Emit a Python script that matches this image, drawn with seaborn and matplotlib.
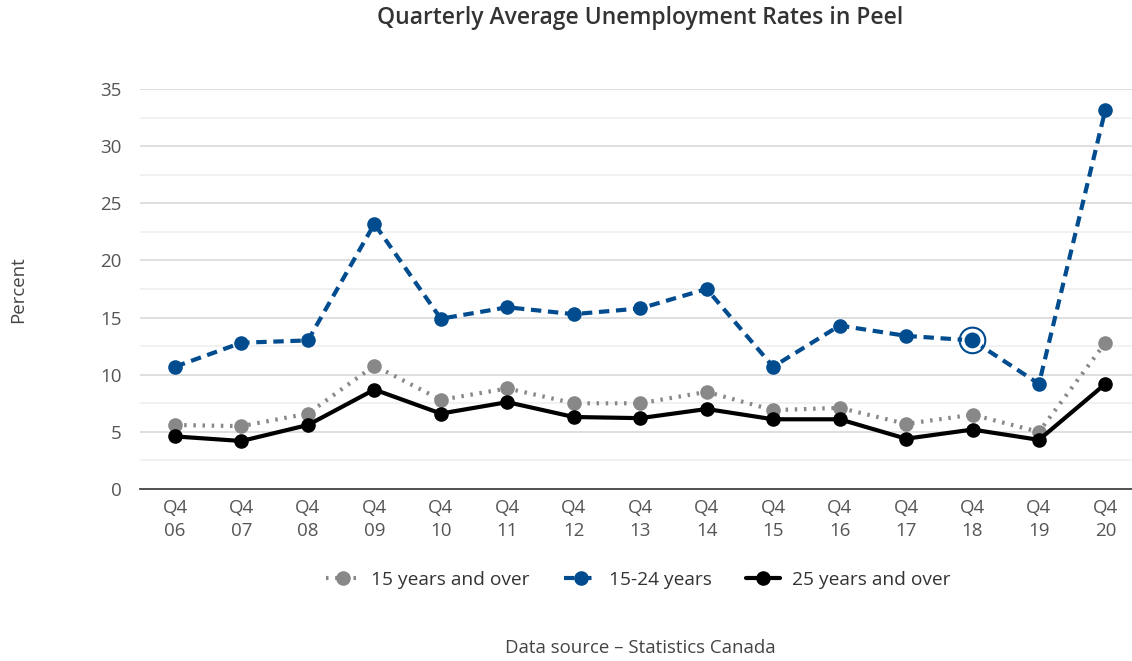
import matplotlib
matplotlib.use("Agg")
import matplotlib.pyplot as plt
import seaborn as sns
import numpy as np
import pandas as pd
from matplotlib.ticker import MultipleLocator

quarters = ["Q4\n06", "Q4\n07", "Q4\n08", "Q4\n09", "Q4\n10", "Q4\n11", "Q4\n12",
            "Q4\n13", "Q4\n14", "Q4\n15", "Q4\n16", "Q4\n17", "Q4\n18", "Q4\n19", "Q4\n20"]
age_15_over = [5.6, 5.5, 6.6, 10.8, 7.8, 8.8, 7.5, 7.5, 8.5, 6.9, 7.1, 5.7, 6.5, 5.0, 12.8]
age_15_24 = [10.7, 12.8, 13.0, 23.2, 14.9, 15.9, 15.3, 15.8, 17.5, 10.7, 14.3, 13.4, 13.0, 9.2, 33.2]
age_25_over = [4.6, 4.2, 5.6, 8.7, 6.6, 7.6, 6.3, 6.2, 7.0, 6.1, 6.1, 4.4, 5.2, 4.3, 9.2]
highlight_index = 12

sns.set_theme(style="white")
plt.rcParams['font.family'] = ['Open Sans', 'DejaVu Sans']

fig = plt.figure(figsize=(11.32, 6.61), dpi=100)
ax = fig.add_axes([140/1132, 172/661, 992/1132, 400/661])

x = np.arange(len(quarters))
df = pd.DataFrame({"x": x, "a": age_15_over, "b": age_15_24, "c": age_25_over})

blue = "#004c8f"
gray = "#888888"

sns.lineplot(data=df, x="x", y="a", ax=ax, color=gray, linewidth=3,
             linestyle=(0, (0.6, 1.6)), marker="o", markersize=10.5,
             markeredgewidth=0, label="15 years and over", clip_on=False, zorder=3)
sns.lineplot(data=df, x="x", y="b", ax=ax, color=blue, linewidth=3,
             linestyle=(0, (2.5, 1.6)), marker="o", markersize=10.5,
             markeredgewidth=0, label="15-24 years", clip_on=False, zorder=4)
sns.lineplot(data=df, x="x", y="c", ax=ax, color="black", linewidth=3,
             linestyle="-", marker="o", markersize=10.5,
             markeredgewidth=0, label="25 years and over", clip_on=False, zorder=5)

# hover ring on highlighted point
ax.scatter([x[highlight_index]], [age_15_24[highlight_index]], s=340, facecolor="none",
           edgecolor=blue, linewidth=1.5, zorder=6, clip_on=False)
ax.scatter([x[highlight_index]], [age_15_24[highlight_index]], s=230, facecolor="white",
           edgecolor="none", zorder=5.5, clip_on=False)
ax.scatter([x[highlight_index]], [age_15_24[highlight_index]], s=130, facecolor=blue,
           edgecolor="none", zorder=6, clip_on=False)

ax.set_xlim(-0.527, 14.4)
ax.set_ylim(0, 35)
ax.set_xticks(x)
ax.set_xticklabels(quarters, fontsize=13.5, color="#555555", linespacing=1.38)
ax.yaxis.set_major_locator(MultipleLocator(5))
ax.yaxis.set_minor_locator(MultipleLocator(2.5))
ax.tick_params(axis="y", labelsize=13.5, labelcolor="#555555", length=0, pad=13)
ax.tick_params(axis="x", length=0, pad=7)
ax.grid(True, which="major", axis="y", color="#d9d9d9", linewidth=1.2)
ax.grid(True, which="minor", axis="y", color="#efefef", linewidth=1.2)
ax.grid(False, axis="x")
for s in ["top", "right", "left"]:
    ax.spines[s].set_visible(False)
ax.spines["bottom"].set_color("#444444")
ax.spines["bottom"].set_linewidth(1.3)
ax.set_xlabel("")
ax.set_ylabel("")

fig.text(18/1132, 1 - 290/661, "Percent", rotation=90, ha="center", va="center",
         fontsize=13.4, color="#444444")
fig.text(640/1132, 1 - 18/661, "Quarterly Average Unemployment Rates in Peel",
         ha="center", va="center", fontsize=16.5, fontweight="semibold", color="#333333")
fig.text(640/1132, 1 - 648/661, "Data source \u2013 Statistics Canada",
         ha="center", va="center", fontsize=13.4, color="#444444")

handles, labels = ax.get_legend_handles_labels()
ax.legend(handles, labels, loc="center", bbox_to_anchor=(638/1132, 1 - 580/661),
          bbox_transform=fig.transFigure, ncol=3, frameon=False, fontsize=13.8,
          handlelength=1.75, columnspacing=1.8, handletextpad=0.6,
          labelcolor="#333333")

fig.savefig("out.png", dpi=100)
